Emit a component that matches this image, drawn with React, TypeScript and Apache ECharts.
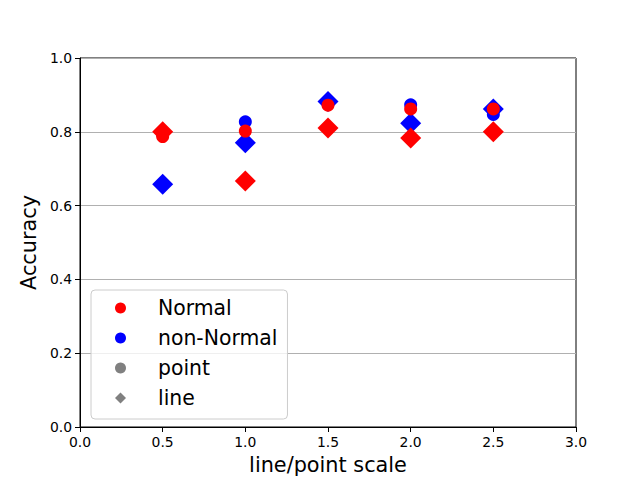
import React, { useEffect, useRef } from "react";
import * as echarts from "echarts";

const scales = [0.5, 1.0, 1.5, 2.0, 2.5];
const normalPoint = [0.787, 0.802, 0.872, 0.862, 0.862];
const normalLine = [0.8, 0.667, 0.81, 0.783, 0.8];
const nonNormalPoint = [0.793, 0.827, 0.88, 0.873, 0.847];
const nonNormalLine = [0.658, 0.77, 0.882, 0.823, 0.862];
const legendNames = ["Normal", "non-Normal", "point", "line"];

const FONT = "DejaVu Sans";

const pairs = (ys: number[]) => scales.map((x, i) => [x, ys[i]]);

export default function App() {
  const ref = useRef<HTMLDivElement>(null);
  useEffect(() => {
    if (!ref.current) return;
    const chart = echarts.init(ref.current, undefined, { renderer: "svg" });
    const axisCommon = {
      axisLine: { show: true, onZero: false, lineStyle: { color: "#000", width: 1 } },
      axisTick: { show: true, inside: false, length: 5, lineStyle: { color: "#000", width: 1 } },
      axisLabel: {
        color: "#000",
        fontFamily: FONT,
        fontSize: 13.9,
        margin: 8,
        formatter: (v: number) => v.toFixed(1),
      },
      nameTextStyle: { color: "#000", fontFamily: FONT, fontSize: 20.8 },
      nameLocation: "middle" as const,
    };
    chart.setOption({
      animation: false,
      backgroundColor: "#fff",
      grid: {
        left: 80,
        right: 64,
        top: 58,
        bottom: 53,
        show: true,
        borderColor: "#000",
        borderWidth: 1,
        backgroundColor: "transparent",
      },
      xAxis: {
        type: "value",
        min: 0,
        max: 3,
        interval: 0.5,
        name: "line/point scale",
        nameGap: 27,
        splitLine: { show: false },
        ...axisCommon,
      },
      yAxis: {
        type: "value",
        min: 0,
        max: 1,
        interval: 0.2,
        name: "Accuracy",
        nameGap: 37,
        splitLine: { show: true, lineStyle: { color: "#b0b0b0", width: 1 } },
        ...axisCommon,
      },
      legend: {
        orient: "vertical",
        left: 91,
        top: 290,
        padding: [8, 10, 11, 24],
        itemWidth: 11,
        itemHeight: 11,
        itemGap: 10,
        backgroundColor: "rgba(255,255,255,0.8)",
        borderColor: "#cccccc",
        borderWidth: 1,
        borderRadius: 4,
        selectedMode: false,
        textStyle: {
          color: "#000",
          fontFamily: FONT,
          fontSize: 20.4,
          lineHeight: 20,
          padding: [0, 0, 0, 27],
        },
        data: [
          { name: legendNames[0], icon: "circle", itemStyle: { color: "#ff0000", opacity: 1 } },
          { name: legendNames[1], icon: "circle", itemStyle: { color: "#0000ff", opacity: 1 } },
          { name: legendNames[2], icon: "circle", itemStyle: { color: "#808080", opacity: 1 } },
          { name: legendNames[3], icon: "diamond", itemStyle: { color: "#808080", opacity: 1 } },
        ],
      },
      series: [
        {
          name: "non-Normal",
          type: "scatter",
          symbol: "circle",
          symbolSize: 13,
          itemStyle: { color: "#0000ff", opacity: 1 },
          data: pairs(nonNormalPoint),
          z: 2,
        },
        {
          name: "non-Normal line",
          type: "scatter",
          symbol: "diamond",
          symbolSize: 21,
          itemStyle: { color: "#0000ff", opacity: 1 },
          data: pairs(nonNormalLine),
          z: 3,
        },
        {
          name: "Normal",
          type: "scatter",
          symbol: "circle",
          symbolSize: 13,
          itemStyle: { color: "#ff0000", opacity: 1 },
          data: pairs(normalPoint),
          z: 4,
        },
        {
          name: "Normal line",
          type: "scatter",
          symbol: "diamond",
          symbolSize: 21,
          itemStyle: { color: "#ff0000", opacity: 1 },
          data: pairs(normalLine),
          z: 5,
        },
        {
          name: "point",
          type: "scatter",
          symbol: "circle",
          itemStyle: { color: "#808080", opacity: 1 },
          data: [],
        },
        {
          name: "line",
          type: "scatter",
          symbol: "diamond",
          itemStyle: { color: "#808080", opacity: 1 },
          data: [],
        },
      ],
    });
    return () => chart.dispose();
  }, []);
  return <div ref={ref} style={{ width: 640, height: 480, position: "absolute", left: 0, top: 0 }} />;
}
